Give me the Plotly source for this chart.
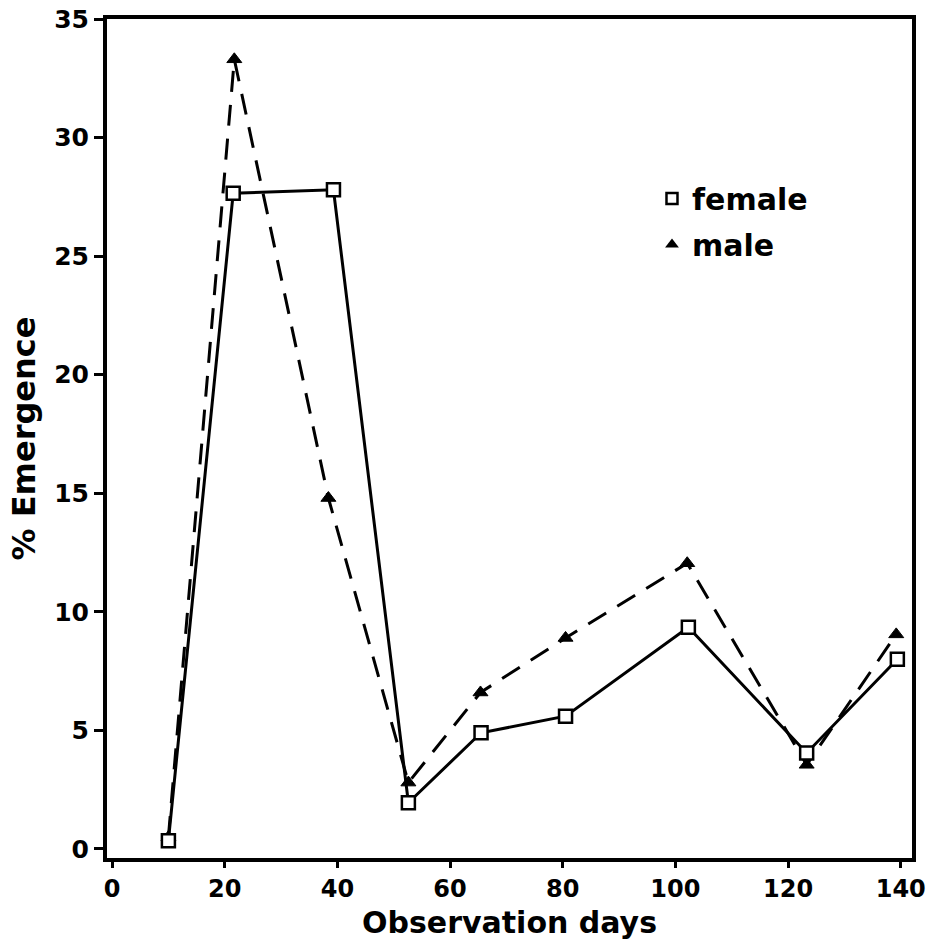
import plotly.graph_objects as go

# Data
female_days = [10, 21.5, 39.3, 52.6, 65.5, 80.5, 102.3, 123.3, 139.4]
female_pct = [0.35, 27.65, 27.8, 1.95, 4.9, 5.6, 9.35, 4.05, 8.0]

male_days = [10, 21.7, 38.4, 52.6, 65.4, 80.5, 102.1, 123.3, 139.2]
male_pct = [0.5, 33.3, 14.8, 2.8, 6.6, 8.9, 12.05, 3.55, 9.05]

x_ticks = [0, 20, 40, 60, 80, 100, 120, 140]
y_ticks = [0, 5, 10, 15, 20, 25, 30, 35]

x_title = "Observation days"
y_title = "% Emergence"

FONT = "DejaVu Sans"

fig = go.Figure()

# male: dashed line with filled triangles
fig.add_trace(go.Scatter(
    x=male_days, y=male_pct, mode="lines+markers", showlegend=False,
    line=dict(color="black", width=3, dash="21px,13px"),
    marker=dict(symbol="triangle-up", size=13, color="black",
                line=dict(color="black", width=1)),
))
# female: solid line with open squares
fig.add_trace(go.Scatter(
    x=female_days, y=female_pct, mode="lines+markers", showlegend=False,
    line=dict(color="black", width=3),
    marker=dict(symbol="square", size=13, color="white",
                line=dict(color="black", width=2.5)),
))

# legend entries (marker only)
fig.add_trace(go.Scatter(
    x=[None], y=[None], mode="markers", name="female", legendgroup="f",
    marker=dict(symbol="square", size=11, color="white",
                line=dict(color="black", width=2.5)),
))
fig.add_trace(go.Scatter(
    x=[None], y=[None], mode="markers", name="male", legendgroup="m",
    marker=dict(symbol="triangle-up", size=12, color="black"),
))

fig.add_annotation(
    text=x_title, xref="paper", yref="paper", x=0.5, y=-0.0765,
    xanchor="center", yanchor="middle", showarrow=False,
    font=dict(family=FONT, size=30, color="black", weight="bold"),
)

fig.update_layout(
    width=940, height=942,
    margin=dict(l=107, r=28, t=19, b=84),
    paper_bgcolor="white", plot_bgcolor="white",
    font=dict(family=FONT, color="black"),
    legend=dict(
        x=0.677, y=0.817, xanchor="left", yanchor="top",
        font=dict(family=FONT, size=30, color="black", weight="bold"),
        bgcolor="rgba(0,0,0,0)", tracegroupgap=4,
        itemwidth=30,
    ),
    xaxis=dict(
        range=[-0.9, 142.0], tickvals=x_ticks, ticktext=[str(v) for v in x_ticks],
        showgrid=False, zeroline=False, automargin=False,
        showline=True, linecolor="black", linewidth=4, mirror=True,
        ticks="outside", ticklen=6, tickwidth=3, tickcolor="black",
        tickfont=dict(family=FONT, size=24, color="black", weight="bold"),
    ),
    yaxis=dict(
        range=[-0.38, 35], tickvals=y_ticks, ticktext=[str(v) for v in y_ticks],
        showgrid=False, zeroline=False, automargin=False,
        showline=True, linecolor="black", linewidth=4, mirror=True,
        ticks="outside", ticklen=9, tickwidth=3, tickcolor="black",
        tickfont=dict(family=FONT, size=25, color="black", weight="bold"),
        title=dict(text=y_title, standoff=10,
                   font=dict(family=FONT, size=32, color="black", weight="bold")),
    ),
)

fig.write_html("out.html")
